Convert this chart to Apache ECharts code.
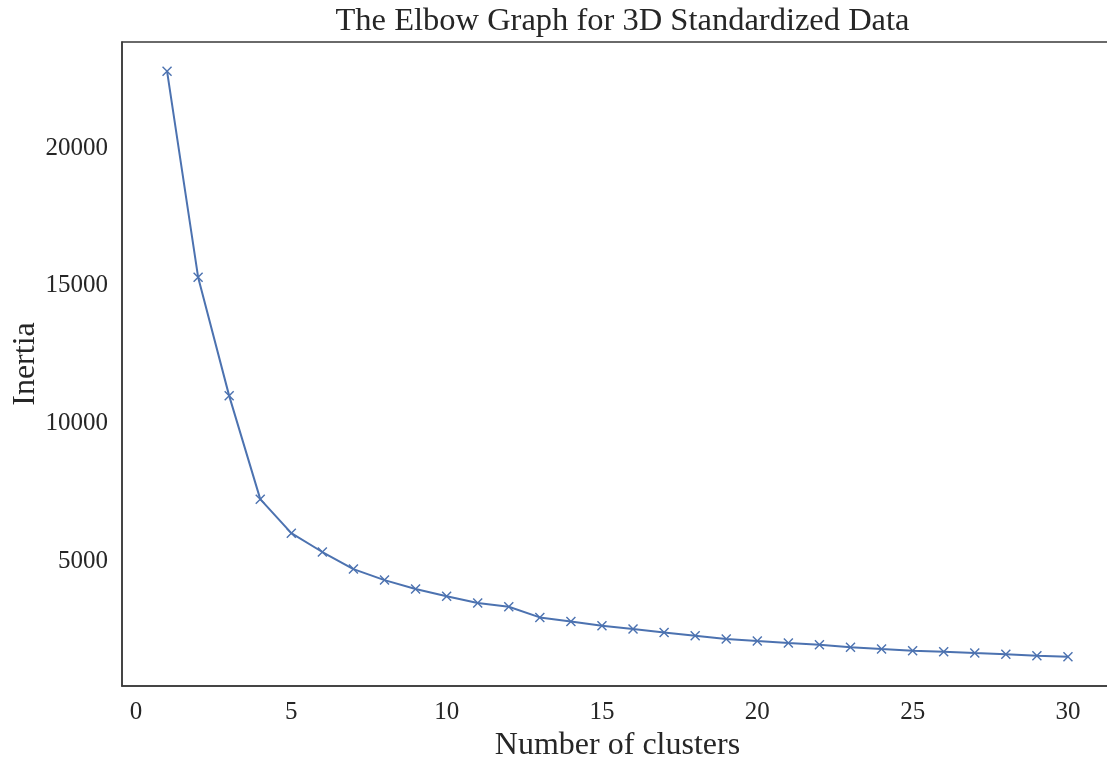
<!DOCTYPE html>
<html>
<head>
<meta charset="utf-8">
<script src="https://cdn.jsdelivr.net/npm/echarts@6/dist/echarts.min.js"></script>
<style>
html,body{margin:0;padding:0;background:#fff;}
#chart{width:1107px;height:757px;}
</style>
</head>
<body>
<div id="chart"></div>
<script>
const clusters = [1,2,3,4,5,6,7,8,9,10,11,12,13,14,15,16,17,18,19,20,21,22,23,24,25,26,27,28,29,30];
const inertia = [22790,15310,11000,7250,6015,5330,4710,4310,3985,3720,3475,3340,2955,2810,2650,2530,2410,2290,2170,2095,2025,1965,1870,1805,1745,1710,1660,1615,1565,1525];
const xTicks = [0,5,10,15,20,25,30];
const yTicks = [5000,10000,15000,20000];

const FONT = '"Liberation Serif", "Times New Roman", serif';
const TXT = '#262626';
const chart = echarts.init(document.getElementById('chart'), null, {renderer:'canvas'});
const xMark = 'path://M0,1L1,0L5,4L9,0L10,1L6,5L10,9L9,10L5,6L1,10L0,9L4,5Z';

chart.setOption({
  animation:false,
  backgroundColor:'#fff',
  title:{
    text:'The Elbow Graph for 3D Standardized Data',
    left:617.5, textAlign:'center', top:0,
    textStyle:{fontFamily:FONT, fontSize:32.5, fontWeight:'normal', color:TXT}
  },
  grid:{left:122, right:-6, top:42, bottom:71, containLabel:false, outerBoundsMode:'none',
        show:true, borderColor:'#3a3a3a', borderWidth:1.5, backgroundColor:'transparent'},
  xAxis:{
    type:'value', min:-0.45, max:31.45,
    name:'Number of clusters', nameLocation:'middle', nameGap:38,
    nameTextStyle:{fontFamily:FONT, fontSize:32, color:TXT},
    axisLine:{show:true, onZero:false, lineStyle:{color:'#3a3a3a', width:1.5}},
    axisTick:{show:false},
    splitLine:{show:false},
    axisLabel:{customValues:xTicks, formatter:v=>String(v), fontFamily:FONT, fontSize:25, color:TXT, margin:14}
  },
  yAxis:{
    type:'value', min:464, max:23851,
    name:'Inertia', nameLocation:'middle', nameGap:80, nameRotate:90, nameMoveOverlap:false,
    nameTextStyle:{fontFamily:FONT, fontSize:32, color:TXT},
    axisLine:{show:true, onZero:false, lineStyle:{color:'#3a3a3a', width:1.5}},
    axisTick:{show:false},
    splitLine:{show:false},
    axisLabel:{customValues:yTicks, formatter:v=>String(v), fontFamily:FONT, fontSize:25, color:TXT, margin:14}
  },
  series:[{
    type:'line',
    data:clusters.map((c,i)=>[c,inertia[i]]),
    lineStyle:{color:'#4c72b0', width:2},
    itemStyle:{color:'#4c72b0'},
    symbol:xMark, symbolSize:10, showAllSymbol:true
  }]
});
</script>
</body>
</html>
